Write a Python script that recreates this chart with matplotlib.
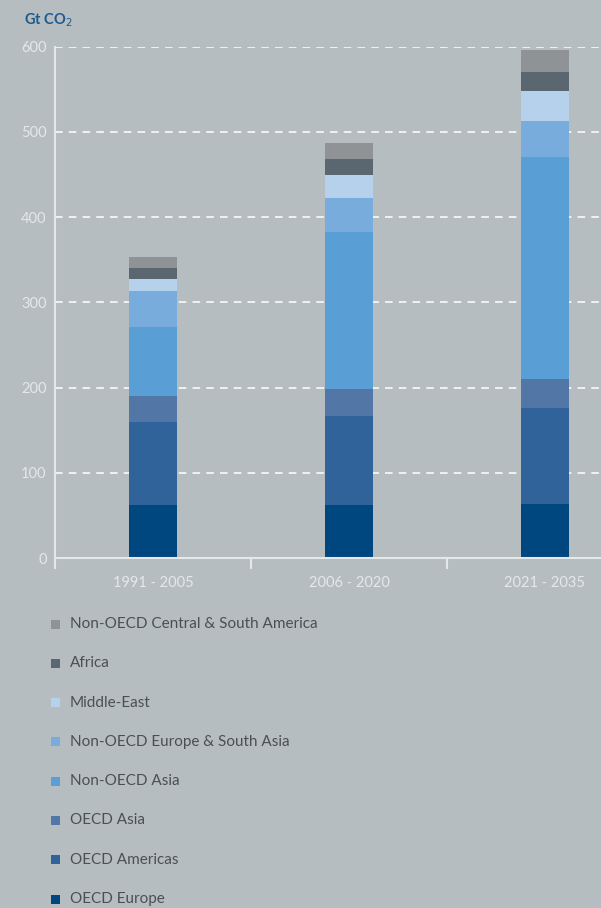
import matplotlib
matplotlib.use("Agg")
import matplotlib.pyplot as plt
from matplotlib.patches import Rectangle

plt.rcParams['font.family'] = ['Lato', 'DejaVu Sans']

periods = ["1991 - 2005", "2006 - 2020", "2021 - 2035"]

# Stacked regions, bottom to top (Gt CO2 per period)
regions = [
    "OECD Europe",
    "OECD Americas",
    "OECD Asia",
    "Non-OECD Asia",
    "Non-OECD Europe & South Asia",
    "Middle-East",
    "Africa",
    "Non-OECD Central & South America",
]
oecd_europe = [62, 62, 63]
oecd_americas = [98, 104.5, 113]
oecd_asia = [30.5, 31.5, 34]
non_oecd_asia = [80, 184, 260]
non_oecd_europe_south_asia = [43, 41, 43]
middle_east = [14, 26, 35]
africa = [13, 19, 22]
non_oecd_central_south_america = [13, 19, 26]

series = [oecd_europe, oecd_americas, oecd_asia, non_oecd_asia,
          non_oecd_europe_south_asia, middle_east, africa,
          non_oecd_central_south_america]
colors = ["#00467f", "#2f6399", "#5277a6", "#599fd5",
          "#78acdc", "#b6d1eb", "#5a6770", "#8f9396"]

bg = "#b6bdc0"
axis_col = "#e4e8ea"

fig = plt.figure(figsize=(6.01, 9.08), dpi=100, facecolor=bg)
W, H = 601, 908
left_px, right_px, top_px, bottom_px = 55, 601, 46.7, 558
ax = fig.add_axes([left_px / W, 1 - bottom_px / H,
                   (right_px - left_px) / W, (bottom_px - top_px) / H])
ax.set_facecolor(bg)

x = list(range(len(periods)))
base = [0.0] * len(periods)
for vals, col in zip(series, colors):
    ax.bar(x, vals, width=0.24, bottom=base, color=col, zorder=3,
           linewidth=0)
    base = [b + v for b, v in zip(base, vals)]

ax.set_yticks(range(0, 601, 100))
ax.set_xticks(x)
ax.set_xticklabels(periods)
ax.set_xticks([-0.5, 0.5, 1.5], minor=True)
ax.set_ylim(0, 600)
ax.set_xlim(-0.5, -0.5 + (right_px - left_px) / 196.0)

ax.tick_params(axis='y', length=0, pad=6, labelsize=10.5, labelcolor=axis_col)
ax.tick_params(axis='x', which='major', length=0, pad=13, labelsize=10.5,
               labelcolor=axis_col)
ax.tick_params(axis='x', which='minor', length=8, width=1.5, color=axis_col)

ax.yaxis.grid(True, color="white", linestyle=(0, (5, 4)), linewidth=1.1,
              zorder=1)
ax.xaxis.grid(False)
ax.set_axisbelow(True)

for s in ("top", "right"):
    ax.spines[s].set_visible(False)
for s in ("left", "bottom"):
    ax.spines[s].set_color(axis_col)
    ax.spines[s].set_linewidth(1.5)
    ax.spines[s].set_zorder(4)

fig.text(24 / W, 1 - 20 / H, "Gt CO$_2$", color="#1d5a8e", fontsize=10.5,
         fontweight="bold", va="center", ha="left")

# Legend, top entry is the top of the stack
row0, step = 624, 39.3
for i, (name, col) in enumerate(zip(regions[::-1], colors[::-1])):
    yc = row0 + i * step
    fig.add_artist(Rectangle((51 / W, 1 - (yc + 4.5) / H), 9 / W, 9 / H,
                             transform=fig.transFigure, facecolor=col,
                             edgecolor="none"))
    fig.text(70 / W, 1 - yc / H, name, color="#4a4f54", fontsize=11,
             va="center", ha="left")

fig.savefig("out.png", dpi=100, facecolor=bg)
